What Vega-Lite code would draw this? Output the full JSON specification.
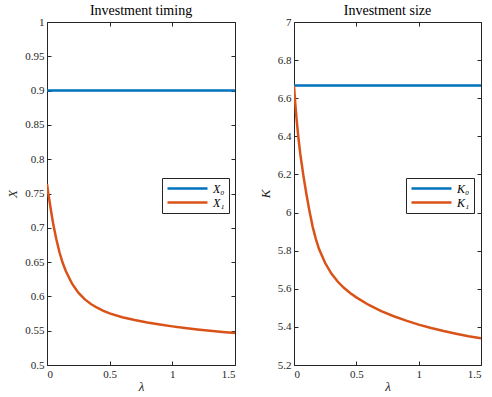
{
  "$schema": "https://vega.github.io/schema/vega-lite/v6.json",
  "autosize": {"type": "pad"},
  "padding": {"left": 6, "top": 3, "right": 0, "bottom": 0},
  "background": "white",
  "bounds": "flush",
  "spacing": 59,
  "config": {
    "font": "Liberation Serif",
    "view": {"stroke": "#262626", "strokeWidth": 1},
    "title": {"font": "Liberation Serif", "fontSize": 14, "fontWeight": "normal", "color": "#000000", "offset": -2},
    "axis": {
      "labelFont": "Liberation Serif", "labelFontSize": 11, "labelColor": "#262626",
      "titleFont": "Liberation Serif", "titleFontSize": 13, "titleFontWeight": "normal", "titleFontStyle": "italic", "titleColor": "#262626",
      "tickColor": "#262626", "tickSize": -4, "labelPadding": 7, "domain": false, "grid": false
    },
    "legend": {
      "labelFont": "Liberation Serif", "labelFontSize": 12, "labelFontStyle": "italic", "labelColor": "#000000",
      "symbolType": "M-1,0H7", "symbolSize": 100, "symbolStrokeWidth": 2.5, "labelOffset": 34,
      "strokeColor": "#262626", "fillColor": "white", "padding": 4, "rowPadding": 1
    }
  },
  "hconcat": [
    {
      "width": 188,
      "height": 343,
      "title": "Investment timing",
      "data": {"values": [
        {"lambda": 0, "value": 0.9, "series": "X₀"},
        {"lambda": 1.5, "value": 0.9, "series": "X₀"},
        {"lambda": 0, "value": 0.764, "series": "X₁"},
        {"lambda": 0.01, "value": 0.751, "series": "X₁"},
        {"lambda": 0.02, "value": 0.739, "series": "X₁"},
        {"lambda": 0.03, "value": 0.727, "series": "X₁"},
        {"lambda": 0.04, "value": 0.716, "series": "X₁"},
        {"lambda": 0.05, "value": 0.705, "series": "X₁"},
        {"lambda": 0.075, "value": 0.683, "series": "X₁"},
        {"lambda": 0.1, "value": 0.664, "series": "X₁"},
        {"lambda": 0.125, "value": 0.649, "series": "X₁"},
        {"lambda": 0.15, "value": 0.637, "series": "X₁"},
        {"lambda": 0.2, "value": 0.6185, "series": "X₁"},
        {"lambda": 0.25, "value": 0.6055, "series": "X₁"},
        {"lambda": 0.3, "value": 0.596, "series": "X₁"},
        {"lambda": 0.35, "value": 0.589, "series": "X₁"},
        {"lambda": 0.4, "value": 0.5835, "series": "X₁"},
        {"lambda": 0.45, "value": 0.579, "series": "X₁"},
        {"lambda": 0.5, "value": 0.5752, "series": "X₁"},
        {"lambda": 0.6, "value": 0.5697, "series": "X₁"},
        {"lambda": 0.7, "value": 0.5656, "series": "X₁"},
        {"lambda": 0.8, "value": 0.5621, "series": "X₁"},
        {"lambda": 0.9, "value": 0.5591, "series": "X₁"},
        {"lambda": 1.0, "value": 0.5563, "series": "X₁"},
        {"lambda": 1.1, "value": 0.5539, "series": "X₁"},
        {"lambda": 1.2, "value": 0.5518, "series": "X₁"},
        {"lambda": 1.3, "value": 0.5499, "series": "X₁"},
        {"lambda": 1.4, "value": 0.5482, "series": "X₁"},
        {"lambda": 1.5, "value": 0.5467, "series": "X₁"}
      ]},
      "layer": [
        {
          "mark": {"type": "line", "strokeWidth": 2.5, "clip": true},
          "encoding": {
            "x": {"field": "lambda", "type": "quantitative", "scale": {"domain": [0, 1.5], "nice": false},
                  "axis": {"title": "λ", "values": [0, 0.5, 1, 1.5], "format": "~g", "titlePadding": 1}},
            "y": {"field": "value", "type": "quantitative", "scale": {"domain": [0.5, 1], "nice": false, "zero": false},
                  "axis": {"title": "X", "values": [0.5, 0.55, 0.6, 0.65, 0.7, 0.75, 0.8, 0.85, 0.9, 0.95, 1], "format": "~g", "titlePadding": 5}},
            "color": {"field": "series", "type": "nominal",
                      "scale": {"domain": ["X₀", "X₁"], "range": ["#0072BD", "#D95319"]},
                      "legend": {"title": null, "orient": "none", "legendX": 115, "legendY": 156}}
          }
        },
        {
          "mark": {"type": "point", "opacity": 0},
          "encoding": {
            "x": {"field": "lambda", "type": "quantitative", "axis": {"orient": "top", "labels": false, "title": null, "values": [0, 0.5, 1, 1.5]}},
            "y": {"field": "value", "type": "quantitative", "axis": {"orient": "right", "labels": false, "title": null, "values": [0.5, 0.55, 0.6, 0.65, 0.7, 0.75, 0.8, 0.85, 0.9, 0.95, 1]}}
          }
        }
      ],
      "resolve": {"axis": {"x": "independent", "y": "independent"}}
    },
    {
      "width": 187,
      "height": 343,
      "title": "Investment size",
      "data": {"values": [
        {"lambda": 0, "value": 6.667, "series": "K₀"},
        {"lambda": 1.5, "value": 6.667, "series": "K₀"},
        {"lambda": 0, "value": 6.665, "series": "K₁"},
        {"lambda": 0.01, "value": 6.575, "series": "K₁"},
        {"lambda": 0.02, "value": 6.495, "series": "K₁"},
        {"lambda": 0.035, "value": 6.395, "series": "K₁"},
        {"lambda": 0.05, "value": 6.31, "series": "K₁"},
        {"lambda": 0.075, "value": 6.195, "series": "K₁"},
        {"lambda": 0.1, "value": 6.095, "series": "K₁"},
        {"lambda": 0.125, "value": 6.005, "series": "K₁"},
        {"lambda": 0.15, "value": 5.925, "series": "K₁"},
        {"lambda": 0.175, "value": 5.862, "series": "K₁"},
        {"lambda": 0.2, "value": 5.81, "series": "K₁"},
        {"lambda": 0.25, "value": 5.735, "series": "K₁"},
        {"lambda": 0.3, "value": 5.68, "series": "K₁"},
        {"lambda": 0.35, "value": 5.638, "series": "K₁"},
        {"lambda": 0.4, "value": 5.605, "series": "K₁"},
        {"lambda": 0.45, "value": 5.578, "series": "K₁"},
        {"lambda": 0.5, "value": 5.555, "series": "K₁"},
        {"lambda": 0.6, "value": 5.515, "series": "K₁"},
        {"lambda": 0.7, "value": 5.483, "series": "K₁"},
        {"lambda": 0.8, "value": 5.456, "series": "K₁"},
        {"lambda": 0.9, "value": 5.433, "series": "K₁"},
        {"lambda": 1.0, "value": 5.412, "series": "K₁"},
        {"lambda": 1.1, "value": 5.394, "series": "K₁"},
        {"lambda": 1.2, "value": 5.378, "series": "K₁"},
        {"lambda": 1.3, "value": 5.364, "series": "K₁"},
        {"lambda": 1.4, "value": 5.351, "series": "K₁"},
        {"lambda": 1.5, "value": 5.34, "series": "K₁"}
      ]},
      "layer": [
        {
          "mark": {"type": "line", "strokeWidth": 2.5, "clip": true},
          "encoding": {
            "x": {"field": "lambda", "type": "quantitative", "scale": {"domain": [0, 1.5], "nice": false},
                  "axis": {"title": "λ", "values": [0, 0.5, 1, 1.5], "format": "~g", "titlePadding": 1}},
            "y": {"field": "value", "type": "quantitative", "scale": {"domain": [5.2, 7], "nice": false, "zero": false},
                  "axis": {"title": "K", "values": [5.2, 5.4, 5.6, 5.8, 6, 6.2, 6.4, 6.6, 6.8, 7], "format": "~g", "titlePadding": 5}},
            "color": {"field": "series", "type": "nominal",
                      "scale": {"domain": ["K₀", "K₁"], "range": ["#0072BD", "#D95319"]},
                      "legend": {"title": null, "orient": "none", "legendX": 112, "legendY": 156}}
          }
        },
        {
          "mark": {"type": "point", "opacity": 0},
          "encoding": {
            "x": {"field": "lambda", "type": "quantitative", "axis": {"orient": "top", "labels": false, "title": null, "values": [0, 0.5, 1, 1.5]}},
            "y": {"field": "value", "type": "quantitative", "axis": {"orient": "right", "labels": false, "title": null, "values": [5.2, 5.4, 5.6, 5.8, 6, 6.2, 6.4, 6.6, 6.8, 7]}}
          }
        }
      ],
      "resolve": {"axis": {"x": "independent", "y": "independent"}}
    }
  ],
  "resolve": {"scale": {"color": "independent"}, "legend": {"color": "independent"}}
}
